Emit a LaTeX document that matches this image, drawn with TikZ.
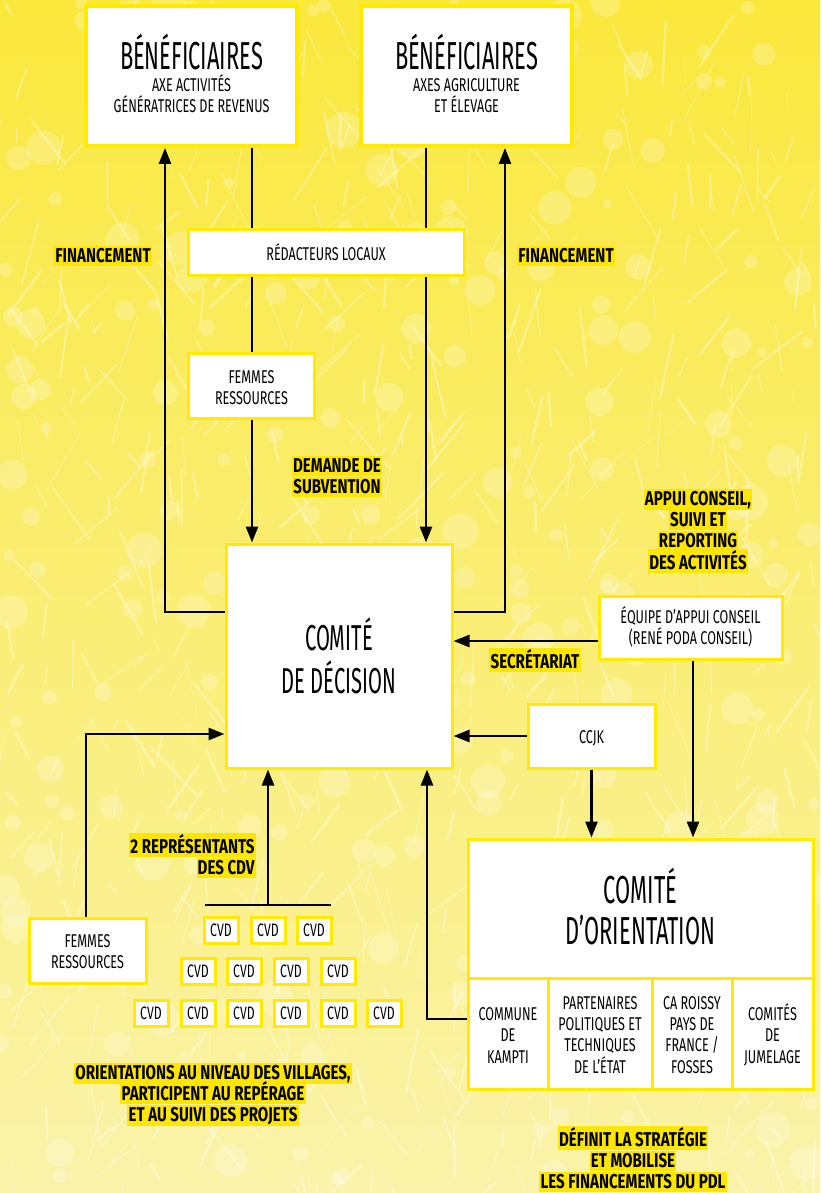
\documentclass[tikz,border=0pt]{standalone}
\usepackage{fontspec}
\setmainfont{Fira Sans}[FakeStretch=0.56]
\newfontfamily\sfam{Fira Sans}[FakeStretch=0.68]
\newfontfamily\lfam{Fira Sans}[FakeStretch=0.755]
\usetikzlibrary{arrows.meta,calc}
\definecolor{hly}{RGB}{255,230,0}
\definecolor{bordy}{RGB}{255,234,0}
\definecolor{bgtop}{RGB}{250,232,60}
\definecolor{bgbot}{RGB}{250,243,170}
\setlength{\fboxsep}{1.2pt}
\newcommand{\hlx}[1]{\colorbox{hly}{\rule[-0.14em]{0pt}{0.9em}#1}}
\begin{document}
\begin{tikzpicture}[x=1pt,y=-1pt,
  box/.style={draw=bordy, line width=3pt, fill=white, align=center, inner sep=0pt},
  arr/.style={line width=2.6pt, -{Triangle[length=16pt,width=12pt]}},
  ln/.style={line width=2.6pt},
  lab/.style={inner sep=0pt, anchor=base, font=\lfam\bfseries\fontsize{20}{22}\selectfont},
  big/.style={inner sep=0pt, anchor=base, font=\fontsize{39}{42}\selectfont},
  mid/.style={inner sep=0pt, anchor=base, font=\fontsize{36}{42}\selectfont},
  sml/.style={inner sep=0pt, anchor=base, font=\sfam\fontsize{18.5}{21}\selectfont},
  cvd/.style={box, minimum width=34pt, minimum height=26pt, font=\sfam\fontsize{18}{20}\selectfont}]
\useasboundingbox (0,0) rectangle (820,1193);
\fill[top color=bgtop, bottom color=bgbot] (0,0) rectangle (820,1193);
% background texture (grass-like light streaks)
\begin{scope}
\clip (0,0) rectangle (820,1193);
\pgfmathsetseed{11}
\foreach \k in {1,...,260}{
  \pgfmathsetmacro{\px}{rnd*820}
  \pgfmathsetmacro{\py}{rnd*1193}
  \pgfmathsetmacro{\rr}{4+rnd*14}
  \fill[white, opacity=0.22] (\px,\py) circle (\rr);
}
\foreach \k in {1,...,700}{
  \pgfmathsetmacro{\px}{rnd*820}
  \pgfmathsetmacro{\py}{rnd*1193}
  \pgfmathsetmacro{\ang}{45+rnd*100}
  \pgfmathsetmacro{\len}{12+rnd*55}
  \pgfmathsetmacro{\lw}{0.5+rnd*2}
  \draw[white, opacity=0.32, line width=\lw pt, line cap=round]
    (\px,\py) -- ++(\ang:\len);
}
\end{scope}

% --- boxes
\node[box, line width=4pt, minimum width=211pt, minimum height=140pt] (ben1) at (191.5,76) {};
\node[box, line width=4pt, minimum width=211pt, minimum height=140pt] (ben2) at (466.5,76) {};
\node[box, minimum width=276pt, minimum height=46pt] (red) at (326,252) {};
\node[box, minimum width=126pt, minimum height=65pt] (fem1) at (251.5,386) {};
\node[box, minimum width=226pt, minimum height=224pt] (cdd) at (339,656) {};
\node[box, minimum width=183pt, minimum height=63pt] (equ) at (690.5,627.5) {};
\node[box, minimum width=127pt, minimum height=64pt] (ccjk) at (591.5,736) {};
\node[box, minimum width=117pt, minimum height=65pt] (fem2) at (87.5,950.5) {};
\node[box, minimum width=345pt, minimum height=139pt] (co) at (640.5,908.5) {};
\node[box, minimum width=80pt, minimum height=111pt] (c1) at (508,1033.5) {};
\node[box, minimum width=104pt, minimum height=111pt] (c2) at (600,1033.5) {};
\node[box, minimum width=80pt, minimum height=111pt] (c3) at (692,1033.5) {};
\node[box, minimum width=81pt, minimum height=111pt] (c4) at (772.5,1033.5) {};

% CVD boxes
\foreach \i/\x/\y in {1/221/930,2/268/930,3/314/930,
  4/198/971,5/244/971,6/291/971,7/338/971,
  8/151/1013,9/198/1013,10/244/1013,11/291/1013,12/338/1013,13/384/1013}
  \node[cvd] (cvd\i) at (\x,\y) {CVD};

% --- box texts
\node[big] (ben1a) at (191.5,70) {BÉNÉFICIAIRES};
\node[sml] (ben1b) at (191.5,92) {AXE ACTIVITÉS};
\node[sml] (ben1c) at (191.5,113) {GÉNÉRATRICES DE REVENUS};
\node[big] (ben2a) at (466.5,70) {BÉNÉFICIAIRES};
\node[sml] (ben2b) at (466.5,92) {AXES AGRICULTURE};
\node[sml] (ben2c) at (466.5,113) {ET ÉLEVAGE};
\node[sml] (reda) at (326,260) {RÉDACTEURS LOCAUX};
\node[sml] (fem1a) at (251.5,383) {FEMMES};
\node[sml] (fem1b) at (251.5,404) {RESSOURCES};
\node[mid] (cdda) at (339,650) {COMITÉ};
\node[mid] (cddb) at (339,693) {DE DÉCISION};
\node[sml] (equa) at (690.5,623) {ÉQUIPE D’APPUI CONSEIL};
\node[sml] (equb) at (690.5,644) {(RENÉ PODA CONSEIL)};
\node[sml] (ccjka) at (591.5,743) {CCJK};
\node[sml] (fem2a) at (87.5,947) {FEMMES};
\node[sml] (fem2b) at (87.5,968) {RESSOURCES};
\node[big] (coa) at (640.5,903) {COMITÉ};
\node[big] (cob) at (640.5,944) {D’ORIENTATION};
\node[sml] (c1a) at (508,1020) {COMMUNE};
\node[sml] (c1b) at (508,1041) {DE};
\node[sml] (c1c) at (508,1063) {KAMPTI};
\node[sml] (c2a) at (600,1009) {PARTENAIRES};
\node[sml] (c2b) at (600,1030) {POLITIQUES ET};
\node[sml] (c2c) at (600,1051) {TECHNIQUES};
\node[sml] (c2d) at (600,1073) {DE L’ÉTAT};
\node[sml] (c3a) at (692,1009) {CA ROISSY};
\node[sml] (c3b) at (692,1030) {PAYS DE};
\node[sml] (c3c) at (692,1051) {FRANCE /};
\node[sml] (c3d) at (692,1073) {FOSSES};
\node[sml] (c4a) at (772.5,1020) {COMITÉS};
\node[sml] (c4b) at (772.5,1041) {DE};
\node[sml] (c4c) at (772.5,1063) {JUMELAGE};

% --- labels
\node[lab] (fin1) at (103,262) {\hlx{FINANCEMENT}};
\node[lab] (fin2) at (566,262) {\hlx{FINANCEMENT}};
\node[lab] (dem1) at (337,472) {\hlx{DEMANDE DE}};
\node[lab] (dem2) at (337,493) {\hlx{SUBVENTION}};
\node[lab] (app1) at (698,505) {\hlx{APPUI CONSEIL,}};
\node[lab] (app2) at (698,526) {\hlx{SUIVI ET}};
\node[lab] (app3) at (698,547) {\hlx{REPORTING}};
\node[lab] (app4) at (698,569) {\hlx{DES ACTIVITÉS}};
\node[lab] (sec) at (535,668) {\hlx{SECRÉTARIAT}};
\node[lab, anchor=base east] (rep1) at (256,853) {\hlx{2 REPRÉSENTANTS}};
\node[lab, anchor=base east] (rep2) at (256,874) {\hlx{DES CDV}};
\node[lab] (ori1) at (213,1079) {\hlx{ORIENTATIONS AU NIVEAU DES VILLAGES,}};
\node[lab] (ori2) at (213,1100) {\hlx{PARTICIPENT AU REPÉRAGE}};
\node[lab] (ori3) at (213,1121) {\hlx{ET AU SUIVI DES PROJETS}};
\node[lab] (def1) at (633,1146) {\hlx{DÉFINIT LA STRATÉGIE}};
\node[lab] (def2) at (633,1167) {\hlx{ET MOBILISE}};
\node[lab] (def3) at (633,1188) {\hlx{LES FINANCEMENTS DU PDL}};

% --- connectors
\coordinate (f1) at (165,612);
\coordinate (f2) at (505,612);
\coordinate (l1) at (252,0);
\coordinate (l2) at (426,0);
\coordinate (s1) at (0,641);
\coordinate (v1) at (693,0);
\coordinate (o1) at (427,1019);
\coordinate (w1) at (86,734);
\coordinate (bl) at (205,905);
\coordinate (br) at (331,905);
\coordinate (bm) at (268,905);

\draw[arr] (cdd.west |- f1) -- (f1) -- (f1 |- ben1.south);
\draw[arr] (cdd.east |- f2) -- (f2) -- (f2 |- ben2.south);
\draw[ln] (ben1.south -| l1) -- (l1 |- red.north);
\draw[ln] (red.south -| l1) -- (l1 |- fem1.north);
\draw[arr] (fem1.south -| l1) -- (l1 |- cdd.north);
\draw[ln] (ben2.south -| l2) -- (l2 |- red.north);
\draw[arr] (red.south -| l2) -- (l2 |- cdd.north);
\draw[arr] (equ.west |- s1) -- (cdd.east |- s1);
\draw[arr] (equ.south -| v1) -- (v1 |- co.north);
\draw[arr] (ccjk.west) -- (cdd.east |- ccjk.west);
\draw[arr] (ccjk.south) -- (ccjk.south |- co.north);
\draw[arr] (c1.west |- o1) -- (o1) -- (o1 |- cdd.south);
\draw[arr] (fem2.north -| w1) -- (w1) -- (cdd.west |- w1);
\draw[ln] (bl) -- (br);
\draw[arr] (bm) -- (bm |- cdd.south);
\end{tikzpicture}
\end{document}
